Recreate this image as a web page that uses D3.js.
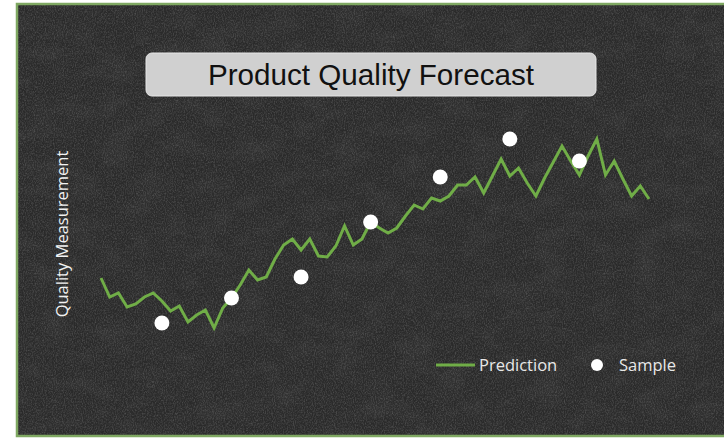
<!DOCTYPE html>
<meta charset="utf-8">
<style>
body { margin: 0; background: #fff; }
.pred-line { fill: none; stroke: #70ad47; stroke-width: 3px; stroke-linejoin: miter; }
</style>
<body>
<script src="https://d3js.org/d3.v7.min.js"></script>
<script>

// prediction series, one value per step
var prediction = [36, 26.5, 28.5, 21.5, 23, 26.5, 28.5, 24.5, 19.5, 22,
    14, 17.5, 20, 11, 21, 26, 32.5, 40, 35, 36.5,
    45.5, 52.5, 55.5, 50, 55.5, 47, 46.5, 52, 62, 52.5,
    55.5, 64, 61, 58.5, 61, 67, 72.5, 70.5, 76, 74.5,
    77, 82.5, 82.5, 86.5, 78.5, 87, 95.5, 87, 91, 83.5,
    77, 86, 94, 102, 94.5, 87.5, 97, 105.5, 87.5, 94.5,
    85.5, 77, 82, 75.5];

// measured samples (step index, value)
var sampleSteps = [7, 15, 23, 31, 39, 47, 55];
var sampleValues = [13.5, 26, 36.5, 64, 86.5, 105.5, 94.5];

var titleText = "Product Quality Forecast";
var yLabel = "Quality Measurement";
var legendLabels = ["Prediction", "Sample"];

var W = 724, H = 438;

var svg = d3.select("body").append("svg")
    .attr("width", W)
    .attr("height", H);

var defs = svg.append("defs");

// fine chalk grain
var filt = defs.append("filter").attr("id", "chalk")
    .attr("x", 0).attr("y", 0).attr("width", "100%").attr("height", "100%");
filt.append("feTurbulence")
    .attr("type", "fractalNoise")
    .attr("baseFrequency", "0.9 0.6")
    .attr("numOctaves", 3)
    .attr("seed", 4);
filt.append("feColorMatrix")
    .attr("type", "matrix")
    .attr("values", "0 0 0 0 1  0 0 0 0 1  0 0 0 0 1  1 0 0 0 -0.38");

// faint smudges
var blot = defs.append("filter").attr("id", "smudge")
    .attr("x", 0).attr("y", 0).attr("width", "100%").attr("height", "100%");
blot.append("feTurbulence")
    .attr("type", "fractalNoise")
    .attr("baseFrequency", "0.03 0.05")
    .attr("numOctaves", 4)
    .attr("seed", 9);
blot.append("feColorMatrix")
    .attr("type", "matrix")
    .attr("values", "0 0 0 0 1  0 0 0 0 1  0 0 0 0 1  1.2 0 0 0 -0.5");

// board
svg.append("rect")
    .attr("x", 16).attr("y", 3)
    .attr("width", W - 16).attr("height", 434)
    .attr("fill", "#2a2a2a");
svg.append("rect")
    .attr("x", 16).attr("y", 3)
    .attr("width", W - 16).attr("height", 434)
    .attr("filter", "url(#smudge)")
    .attr("opacity", 0.07);
svg.append("rect")
    .attr("x", 16).attr("y", 3)
    .attr("width", W - 16).attr("height", 434)
    .attr("filter", "url(#chalk)")
    .attr("opacity", 0.32);
// frame
svg.append("path")
    .attr("d", "M" + W + ",4 H17 V436 H" + W)
    .attr("fill", "none")
    .attr("stroke", "#7fa862")
    .attr("stroke-width", 2.5);

var x = d3.scaleLinear().domain([0, prediction.length - 1]).range([101, 649]);
var y = d3.scaleLinear().domain([0, 120]).range([350, 110]);

// title box
svg.append("rect")
    .attr("x", 146).attr("y", 53)
    .attr("width", 450).attr("height", 43)
    .attr("rx", 6)
    .attr("fill", "#d0d0d0")
    .attr("stroke", "#e6e6e6")
    .attr("stroke-width", 1);
svg.append("text")
    .attr("x", 371).attr("y", 85)
    .attr("text-anchor", "middle")
    .style("font-family", "Liberation Sans, Arial, sans-serif")
    .style("font-size", "29px")
    .attr("textLength", 326)
    .attr("lengthAdjust", "spacingAndGlyphs")
    .attr("fill", "#111")
    .text(titleText);

// y axis label
svg.append("text")
    .attr("transform", "translate(68,234) rotate(-90)")
    .attr("text-anchor", "middle")
    .style("font-family", "Open Sans, sans-serif")
    .style("font-size", "16.5px")
    .attr("fill", "#f2f2f2")
    .text(yLabel);

var line = d3.line()
    .x(function(d, i) { return x(i); })
    .y(function(d) { return y(d); });

svg.append("path")
    .datum(prediction)
    .attr("class", "pred-line")
    .attr("d", line);

svg.selectAll(".sample")
    .data(sampleValues)
    .enter()
    .append("circle")
        .attr("class", "sample")
        .attr("cx", function(d, i) { return x(sampleSteps[i]); })
        .attr("cy", function(d) { return y(d); })
        .attr("r", 7.5)
        .attr("fill", "#fff");

// legend
var lg = svg.append("g").attr("transform", "translate(436,365)");
lg.append("line")
    .attr("x1", 0).attr("x2", 39)
    .attr("stroke", "#70ad47")
    .attr("stroke-width", 3);
lg.append("text")
    .attr("x", 43).attr("y", 6)
    .style("font-family", "Open Sans, sans-serif")
    .style("font-size", "16.5px")
    .attr("fill", "#e8e8e8")
    .text(legendLabels[0]);
lg.append("circle")
    .attr("cx", 161).attr("cy", 0)
    .attr("r", 6)
    .attr("fill", "#fff");
lg.append("text")
    .attr("x", 183).attr("y", 6)
    .style("font-family", "Open Sans, sans-serif")
    .style("font-size", "16.5px")
    .attr("fill", "#e8e8e8")
    .text(legendLabels[1]);

</script>
</body>
